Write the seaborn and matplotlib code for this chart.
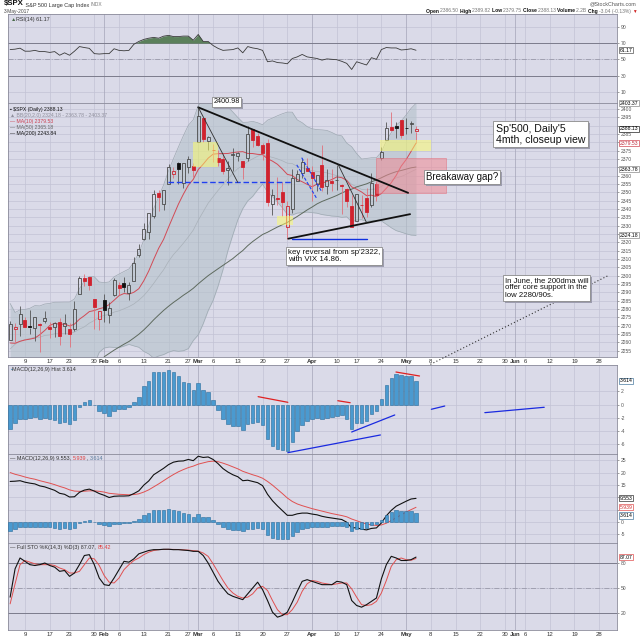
import numpy as np
import pandas as pd
import matplotlib
matplotlib.use("Agg")
import matplotlib.pyplot as plt
from matplotlib.patches import Rectangle
import seaborn as sns

# ------------------------------
# 1. Data: $SPX daily sessions, 4-Jan-2017 .. 3-May-2017
# ------------------------------
holidays = ["2017-01-16", "2017-02-20", "2017-04-14", "2017-05-29"]
calendar = pd.bdate_range("2017-01-04", "2017-06-30").difference(pd.to_datetime(holidays))

opens = [2261.60, 2268.18, 2271.14, 2273.59, 2269.72, 2268.60, 2271.14, 2272.74, 2269.14, 2269.14,
         2271.90, 2269.96, 2267.78, 2267.88, 2288.88, 2298.63, 2299.02, 2286.01, 2274.02, 2285.59,
         2276.69, 2288.54, 2294.28, 2295.87, 2289.55, 2296.70, 2312.27, 2321.72, 2326.12, 2335.58,
         2349.64, 2343.01, 2354.91, 2361.11, 2367.50, 2355.73, 2365.23, 2366.08, 2380.13, 2394.75,
         2380.92, 2375.23, 2370.74, 2369.81, 2363.49, 2372.52, 2371.56, 2368.55, 2370.34, 2387.71,
         2383.71, 2378.24, 2379.32, 2343.00, 2345.97, 2350.42, 2329.11, 2339.79, 2356.54, 2361.31,
         2364.82, 2362.34, 2354.76, 2366.59, 2353.79, 2356.59, 2357.16, 2353.92, 2352.15, 2341.98,
         2332.62, 2342.53, 2346.79, 2342.69, 2354.74, 2370.33, 2381.51, 2388.98, 2389.70, 2393.68,
         2388.50, 2391.05, 2386.50]
highs = [2272.82, 2271.50, 2282.10, 2275.49, 2279.27, 2275.32, 2271.78, 2278.68, 2272.08, 2272.01,
         2274.33, 2276.96, 2271.78, 2284.63, 2299.55, 2300.99, 2299.02, 2286.01, 2279.09, 2289.14,
         2283.97, 2298.31, 2296.18, 2299.40, 2295.91, 2311.08, 2319.23, 2331.58, 2337.58, 2351.30,
         2351.31, 2351.16, 2366.71, 2365.13, 2368.26, 2367.34, 2371.54, 2367.79, 2400.98, 2394.75,
         2383.89, 2378.80, 2375.12, 2373.09, 2369.08, 2376.86, 2374.42, 2368.55, 2390.01, 2388.10,
         2385.71, 2379.55, 2381.93, 2351.81, 2358.92, 2356.22, 2344.90, 2363.78, 2363.36, 2370.42,
         2370.35, 2365.87, 2360.53, 2378.36, 2364.16, 2363.76, 2366.37, 2355.22, 2352.72, 2348.26,
         2349.14, 2348.35, 2352.63, 2361.37, 2356.18, 2376.98, 2392.48, 2398.16, 2392.10, 2393.68,
         2394.49, 2392.93, 2389.82]
lows = [2261.60, 2260.45, 2264.06, 2268.90, 2265.27, 2260.83, 2254.25, 2271.51, 2262.81, 2263.35,
        2258.41, 2265.01, 2257.02, 2266.68, 2288.88, 2294.08, 2291.62, 2268.04, 2267.21, 2272.44,
        2271.65, 2287.88, 2288.57, 2290.16, 2285.38, 2296.61, 2311.10, 2321.42, 2322.17, 2334.81,
        2338.87, 2339.58, 2354.91, 2358.34, 2355.09, 2352.87, 2361.87, 2358.96, 2380.13, 2380.17,
        2375.39, 2367.98, 2365.51, 2361.01, 2354.54, 2363.04, 2368.52, 2358.18, 2368.94, 2377.18,
        2377.64, 2369.66, 2341.90, 2336.45, 2342.13, 2335.74, 2322.25, 2337.63, 2356.52, 2358.58,
        2362.60, 2344.73, 2350.72, 2350.52, 2348.90, 2350.74, 2351.50, 2337.25, 2341.18, 2328.95,
        2332.51, 2334.54, 2335.05, 2340.91, 2344.51, 2369.19, 2381.15, 2386.78, 2382.68, 2382.36,
        2384.83, 2385.82, 2379.75]
closes = [2270.75, 2269.00, 2276.98, 2268.90, 2268.90, 2275.32, 2270.44, 2274.64, 2267.89, 2271.89,
          2263.69, 2271.31, 2265.20, 2280.07, 2298.37, 2296.68, 2294.69, 2280.90, 2278.87, 2279.55,
          2280.85, 2297.42, 2292.56, 2293.08, 2294.67, 2307.87, 2316.10, 2328.25, 2337.58, 2349.25,
          2347.22, 2351.16, 2365.38, 2362.82, 2363.81, 2367.34, 2369.75, 2363.64, 2395.96, 2381.92,
          2383.12, 2375.31, 2368.39, 2362.98, 2364.87, 2372.60, 2373.47, 2365.45, 2385.26, 2381.38,
          2378.25, 2373.47, 2344.02, 2348.45, 2345.96, 2343.98, 2341.59, 2358.57, 2361.13, 2368.06,
          2362.72, 2358.84, 2360.16, 2352.95, 2357.49, 2355.54, 2357.16, 2353.78, 2344.93, 2328.95,
          2349.01, 2342.19, 2338.17, 2355.84, 2348.69, 2374.15, 2388.61, 2387.45, 2388.77, 2384.20,
          2388.33, 2391.17, 2388.13]

# closes before the window (18-Nov-2016 .. 3-Jan-2017), feed the moving averages
prior_closes = [2181.90, 2198.18, 2202.94, 2204.72, 2213.35, 2201.72, 2204.66, 2198.81,
                2191.08, 2191.95, 2204.71, 2212.23, 2241.35, 2246.19, 2259.53, 2256.96, 2271.72,
                2253.28, 2262.03, 2258.07, 2262.53, 2270.76, 2265.18, 2260.96, 2263.79, 2268.88,
                2249.92, 2249.26, 2238.83, 2257.83]

# indicator readings, one per session
rsi = [62, 62.5, 63.7, 60, 60, 61, 59.5, 59.5, 58.5, 59.5,
       55, 58, 55, 60, 65.7, 64.5, 63.5, 57, 56.5, 57,
       57, 63, 61, 60.5, 61, 68.5, 72, 74.5, 76, 77,
       76, 78.5, 79.5, 78, 78, 78.6, 78.6, 73.5, 80.6, 72,
       72, 67, 63.5, 61, 61.5, 62, 64, 58, 65.7, 64,
       63, 61, 47, 48, 46, 45.5, 44.5, 51, 53, 56,
       53, 52, 51, 49, 50.5, 50, 49.5, 47.5, 45, 37.5,
       47, 45, 43, 52, 50, 62, 64.5, 64, 64, 61.5,
       62, 63, 61.17]
macd_line = [16.4, 16.5, 16.7, 16.1, 15.7, 15.4, 14.6, 14.2, 13.5, 12.8,
             11.6, 11.2, 10.1, 10.2, 12.0, 12.9, 13.3, 12.5, 11.5, 10.8,
             9.9, 10.4, 10.5, 10.5, 10.6, 11.5, 12.6, 14.9, 16.6, 19.1,
             20.4, 21.7, 23.2, 24.2, 24.6, 24.7, 25.3, 24.8, 26.6, 26.1,
             26.3, 25.3, 23.6, 21.6, 20.2, 19.1, 18.3, 16.7, 16.9, 16.4,
             15.9, 14.7, 11.2, 8.6, 6.5, 4.6, 2.7, 2.7, 3.3, 3.6,
             3.6, 3.2, 2.9, 2.3, 1.9, 1.6, 1.3, 1.0, -0.1, -2.4,
             -2.3, -2.9, -3.2, -2.6, -2.4, -0.4, 2.5, 4.7, 6.4, 7.4,
             8.4, 9.3, 9.553]
macd_hist = [-3.6, -2.8, -2.1, -2.1, -2.0, -1.9, -2.1, -2.0, -2.2, -2.3,
             -2.8, -2.6, -2.9, -2.3, -0.4, 0.45, 0.7, -0.1, -0.9, -1.3,
             -1.7, -1.0, -0.7, -0.6, -0.4, 0.4, 1.2, 2.8, 3.6, 4.9,
             5.0, 5.0, 5.2, 5.0, 4.3, 3.5, 3.3, 2.2, 3.2, 2.2,
             1.9, 0.7, -0.8, -2.2, -2.9, -3.2, -3.2, -3.8, -2.9, -2.7,
             -2.6, -3.0, -5.2, -6.3, -6.7, -6.9, -7.0, -5.6, -4.0, -3.0,
             -2.4, -2.2, -2.0, -2.1, -2.0, -1.8, -1.7, -1.6, -2.2, -3.6,
             -2.8, -2.7, -2.4, -1.4, -1.0, 0.8, 3.0, 4.1, 4.7, 4.5,
             4.4, 4.3, 3.614]
sto_k = [39, 73, 86, 82, 78, 77, 78, 80, 77, 75,
         70, 71, 64, 68, 78, 89, 90, 78, 62, 54,
         53, 62, 72, 82, 81, 85, 91, 93, 95, 96,
         96, 96.5, 96.5, 96, 96, 95.5, 95, 94, 94, 89,
         80, 69, 58, 50, 43, 40, 38, 36, 43, 50,
         57, 48, 35, 21, 15, 17, 21, 33, 46, 58,
         60, 58, 56, 54, 54, 54, 58, 57, 54, 35,
         29, 27, 30, 34, 38, 61, 78, 88, 86, 83,
         83, 84, 87.07]
sto_d = [31, 55, 78, 83, 81, 79, 78, 78, 78, 77,
         74, 72, 68, 68, 70, 78, 86, 85, 77, 65,
         57, 56, 62, 72, 78, 83, 86, 90, 93, 95,
         96, 96.3, 96.4, 96.3, 96.2, 95.8, 95.5, 94.8, 94.3, 92,
         88, 79, 69, 59, 50, 44, 40, 38, 39, 43,
         50, 52, 47, 35, 24, 18, 18, 24, 33, 46,
         55, 59, 58, 56, 55, 54, 55, 56, 56, 49,
         39, 30, 29, 30, 34, 44, 59, 76, 84, 86,
         84, 83.3, 85.42]

# date axis
tick_dates = ["2017-01-09", "2017-01-17", "2017-01-23", "2017-01-30", "2017-02-01", "2017-02-06",
              "2017-02-13", "2017-02-21", "2017-02-27", "2017-03-01", "2017-03-06", "2017-03-13",
              "2017-03-20", "2017-03-27", "2017-04-03", "2017-04-10", "2017-04-17", "2017-04-24",
              "2017-05-01", "2017-05-08", "2017-05-15", "2017-05-22", "2017-05-30", "2017-06-01",
              "2017-06-05", "2017-06-12", "2017-06-19", "2017-06-26"]
tick_labels = ["9", "17", "23", "30", "Feb", "6", "13", "21", "27", "Mar", "6", "13", "20", "27",
               "Apr", "10", "17", "24", "May", "8", "15", "22", "30", "Jun", "6", "12", "19", "28"]

# drawn annotations: (session position, price) pairs
resist_x, resist_y = [38, 80.4], [2401.0, 2349.7]
support_x, support_y = [56.2, 80.8], [2322.2, 2336.9]
base_x, base_y = [56.9, 72.0], [2322.2, 2322.2]
neck_x, neck_y = [31.9, 56.9], [2356.0, 2356.0]
thin_lines = [([38, 46.0], [2401.0, 2355.9]), ([66.3, 72.0], [2366.5, 2331.9])]
flag_lines = [([58.9, 63.0], [2370.8, 2350.1]), ([57.9, 62.0], [2366.5, 2346.0])]
dma200_x, dma200_y = [83.7, 120.8], [2245.0, 2300.0]
yellow_boxes = [(37.0, 42.05, 2365.0, 2380.4), (53.85, 57.1, 2330.5, 2335.9), (74.7, 84.96, 2375.0, 2381.4)]
gap_box = (73.9, 88.0, 2349.5, 2370.5)
hist_red = [([50.1, 56.1], [1.21, 0.36]), ([66.2, 68.7], [0.6, 0.3]), ([77.95, 82.7], [4.93, 4.33])]
hist_blue = [([56.1, 74.8], [-7.24, -4.57]), ([69.0, 77.7], [-4.12, -1.55]),
             ([85.1, 87.8], [-0.69, -0.2]), ([95.9, 107.9], [-1.2, -0.39])]

# ------------------------------
# 2. Derived series
# ------------------------------
k = np.arange(len(closes))
o, h, l, c = (np.asarray(v, dtype=float) for v in (opens, highs, lows, closes))
all_close = pd.Series(np.r_[prior_closes, c])
n0 = len(prior_closes)
ma10 = all_close.rolling(10).mean().values[n0:]
ma50 = all_close.rolling(50).mean().values[n0:]
mid = all_close.rolling(20).mean()
sd = all_close.rolling(20).std(ddof=0)
bb_mid = mid.values[n0:]
bb_up = (mid + 2 * sd).values[n0:]
bb_lo = (mid - 2 * sd).values[n0:]
macd_line = np.asarray(macd_line)
macd_hist = np.asarray(macd_hist)
signal = macd_line - macd_hist
tick_k = [calendar.get_loc(pd.Timestamp(d)) for d in tick_dates]

# ------------------------------
# 3. Figure layout
# ------------------------------
sns.set_theme(style="white")
plt.rcParams["font.family"] = ["Liberation Sans", "DejaVu Sans"]
plt.rcParams["axes.linewidth"] = 0.6

W = H = 640
BG = "#dadae8"
GRID = "#c3c3d5"
MONTH = "#a4a4b8"
XMIN, XMAX = -0.43, 122.6

fig = plt.figure(figsize=(6.4, 6.4), dpi=100)
fig.patch.set_facecolor("white")


def panel(top, bottom, left=8, right=617):
    return fig.add_axes([left / W, 1 - bottom / H, (right - left) / W, (bottom - top) / H])


ax_rsi = panel(14, 103)
ax_px = panel(103, 357)
ax_hist = panel(365, 454)
ax_macd = panel(454, 543)
ax_sto = panel(543, 630)


def style(ax, ylim, yticks, dates=False, hide_near=(), near=0.0):
    ax.set_facecolor(BG)
    ax.set_xlim(XMIN, XMAX)
    ax.set_ylim(*ylim)
    ax.set_xlabel("")
    ax.set_ylabel("")
    ax.yaxis.tick_right()
    ax.set_yticks(yticks)
    # tick labels that sit under a value tag are not shown
    labels = ["" if any(abs(v - t) < near for t in hide_near) else f"{v:g}" for v in yticks]
    ax.set_yticklabels(labels)
    ax.tick_params(axis="y", labelsize=3.6, length=1.5, width=0.4, pad=1, colors="#555555")
    for v in yticks:
        ax.axhline(v, color=GRID, lw=0.5, zorder=0)
    for kk, lab in zip(tick_k, tick_labels):
        ax.axvline(kk, color=MONTH if lab.isalpha() else GRID, lw=0.5, zorder=0)
    ax.set_xticks(tick_k)
    if dates:
        ax.set_xticklabels(tick_labels)
        ax.tick_params(axis="x", labelsize=4.3, length=0, pad=1.2, colors="#333333")
        for t in ax.get_xticklabels():
            if t.get_text().isalpha():
                t.set_fontweight("bold")
    else:
        ax.set_xticklabels([])
        ax.tick_params(axis="x", length=0)
    for s in ax.spines.values():
        s.set_color("#8a8a9a")
        s.set_linewidth(0.6)


def tag(ax, y, s, edge, txt="black"):
    ax.text(1.004, y, s, transform=ax.get_yaxis_transform(), fontsize=3.7, color=txt,
            va="center", ha="left", zorder=10, clip_on=False,
            bbox=dict(boxstyle="square,pad=0.12", fc="white", ec=edge, lw=0.5))


def chain(ax, x, y, parts, size=3.9):
    t = ax.text(x, y, parts[0][0], transform=ax.transAxes, fontsize=size, color=parts[0][1],
                va="top", ha="left", zorder=12)
    for s, col in parts[1:]:
        t = ax.annotate(s, xycoords=t, xy=(1, 0), va="bottom", fontsize=size, color=col, zorder=12)
    return t


def line(ax, x, y, color, lw, **kw):
    d = pd.DataFrame({"x": x, "y": y}).dropna()
    sns.lineplot(data=d, x="x", y="y", ax=ax, color=color, linewidth=lw, legend=False,
                 estimator=None, sort=False, **kw)


# ------------------------------
# 4. RSI panel
# ------------------------------
rsi_a = np.asarray(rsi, dtype=float)
ax_rsi.fill_between(k, 70, rsi_a, where=rsi_a > 70, interpolate=True, color="#5b805b", zorder=2, lw=0)
line(ax_rsi, k, rsi_a, "#3a3a3a", 0.6)
style(ax_rsi, (-3.8, 105.8), [10, 30, 50, 70, 90])
for v in (30, 70):
    ax_rsi.axhline(v, color="#7c7c8c", lw=0.7, zorder=1)
ax_rsi.axhline(50, color="#9a9aaa", lw=0.6, ls=(0, (6, 2, 1, 2)), zorder=1)
tag(ax_rsi, rsi[-1], f"{rsi[-1]:.2f}", "#555555")
chain(ax_rsi, 0.004, 0.965, [("\u25B2", "#4a6a4a"), (f"RSI(14) {rsi[-1]:.2f}", "#333333")])

# ------------------------------
# 5. Price panel
# ------------------------------
ax = ax_px
ax.fill_between(k, bb_lo, bb_up, color="#b4c2ca", alpha=0.6, lw=0, zorder=1)
line(ax, k, bb_up, "#9ea9b2", 0.5)
line(ax, k, bb_lo, "#9ea9b2", 0.5)
line(ax, k, bb_mid, "#a9b1b9", 0.5)
line(ax, k, ma50, "#5e6a5e", 0.7)
line(ax, k, ma10, "#d24a55", 0.7)

prev = np.r_[prior_closes[-1], c[:-1]]
rising = c >= prev
hollow = c >= o
body_lo = np.minimum(o, c)
body_hi = np.maximum(o, c)
body_h = np.maximum(body_hi - body_lo, 0.35)
face = ["none" if hol else ("#111111" if ris else "#d0222e") for ris, hol in zip(rising, hollow)]
edge = [("#4a4a4a" if hol else "#111111") if ris else "#d0222e" for ris, hol in zip(rising, hollow)]
wick = ["#555555" if ris else "#e0707a" for ris in rising]
ax.vlines(k, l, body_lo, colors=wick, lw=0.6, zorder=3)
ax.vlines(k, body_hi, h, colors=wick, lw=0.6, zorder=3)
ax.bar(k, body_h, bottom=body_lo, width=0.6, color=face, edgecolor=edge, linewidth=0.6, zorder=4)

for x0, x1, y0, y1 in yellow_boxes:
    ax.add_patch(Rectangle((x0, y0), x1 - x0, y1 - y0, fc="#ffff66", ec="none", alpha=0.5, zorder=5))
gx0, gx1, gy0, gy1 = gap_box
ax.add_patch(Rectangle((gx0, gy0), gx1 - gx0, gy1 - gy0, fc="#f08a94", ec="#e06a78", lw=0.6,
                       alpha=0.55, zorder=5))

ax.plot(resist_x, resist_y, color="#111111", lw=1.3, zorder=6)
ax.plot(support_x, support_y, color="#111111", lw=1.3, zorder=6)
ax.plot(base_x, base_y, color="#1030e0", lw=1.0, zorder=6)
ax.plot(neck_x, neck_y, color="#2040f0", lw=1.0, ls=(0, (4, 2)), zorder=6)
for xs, ys in thin_lines:
    ax.plot(xs, ys, color="#303030", lw=0.6, zorder=6)
for xs, ys in flag_lines:
    ax.plot(xs, ys, color="#2040f0", lw=0.8, ls=(0, (3, 1.5)), zorder=6)
ax.plot(dma200_x, dma200_y, color="#333333", lw=0.8, ls=(0, (1, 2)), zorder=6, clip_on=False)

px_tags = [bb_up[-1], c[-1], ma10[-1], bb_mid[-1], bb_lo[-1]]
style(ax, (2251.2, 2403.6), list(range(2255, 2401, 5)), dates=True, hide_near=px_tags, near=3.0)
tag(ax, bb_up[-1], f"{bb_up[-1]:.2f}", "#8a8a8a")
tag(ax, c[-1], f"{c[-1]:.2f}", "#222222")
tag(ax, ma10[-1], f"{ma10[-1]:.2f}", "#d24a55", txt="#c03040")
tag(ax, bb_mid[-1], f"{bb_mid[-1]:.2f}", "#8a8a8a")
tag(ax, bb_lo[-1], f"{bb_lo[-1]:.2f}", "#8a8a8a")

legend_rows = [("\u25AA $SPX (Daily) " + f"{c[-1]:.2f}", "#111111"),
               ("\u25B2 BB(20,2.0) " + f"{bb_lo[-1]:.2f} - {bb_mid[-1]:.2f} - {bb_up[-1]:.2f}", "#8f8f9c"),
               ("\u2014 MA(10) " + f"{ma10[-1]:.2f}", "#cc4050"),
               ("\u2014 MA(50) " + f"{ma50[-1]:.2f}", "#666666"),
               ("\u2014 MA(200) 2243.84", "#111111")]
for i, (s, col) in enumerate(legend_rows):
    ax.text(0.004, 0.985 - i * 0.0236, s, transform=ax.transAxes, fontsize=3.7, color=col,
            va="top", ha="left", zorder=12)

# ------------------------------
# 6. MACD histogram panel
# ------------------------------
ax_hist.bar(k, macd_hist, width=0.7, color="#4a9ad0", edgecolor="#2a6c9c", linewidth=0.4, zorder=3)
for xs, ys in hist_red:
    ax_hist.plot(xs, ys, color="#e02020", lw=0.9, zorder=5)
for xs, ys in hist_blue:
    ax_hist.plot(xs, ys, color="#1a2ae0", lw=0.9, zorder=5)
style(ax_hist, (-7.44, 5.99), [-6, -4, -2, 0, 2])
tag(ax_hist, macd_hist[-1], f"{macd_hist[-1]:.3f}", "#4a7aa0")
chain(ax_hist, 0.004, 0.975, [("\u25AA", "#3a8ac0"), (f"MACD(12,26,9) Hist {macd_hist[-1]:.3f}", "#333333")])

# ------------------------------
# 7. MACD panel
# ------------------------------
ax_macd.bar(k, macd_hist, width=0.7, color="#4a9ad0", edgecolor="#2a6c9c", linewidth=0.4, zorder=3)
line(ax_macd, k, signal, "#e05050", 0.7)
line(ax_macd, k, macd_line, "#111111", 0.8)
macd_tags = [macd_line[-1], signal[-1], macd_hist[-1] - 1.0]
style(ax_macd, (-8.5, 27.5), [-5, 0, 5, 10, 15, 20, 25], hide_near=macd_tags, near=1.6)
tag(ax_macd, macd_tags[0], f"{macd_line[-1]:.3f}", "#333333")
tag(ax_macd, macd_tags[1], f"{signal[-1]:.3f}", "#e05050", txt="#d03030")
tag(ax_macd, macd_tags[2], f"{macd_hist[-1]:.3f}", "#4a7aa0")
chain(ax_macd, 0.004, 0.975, [("\u2014 MACD(12,26,9) " + f"{macd_line[-1]:.3f}, ", "#333333"),
                              (f"{signal[-1]:.3f}", "#e04040"), (", ", "#333333"),
                              (f"{macd_hist[-1]:.3f}", "#5a7a9a")])

# ------------------------------
# 8. Full stochastics panel
# ------------------------------
line(ax_sto, k, sto_d, "#e05050", 0.7)
line(ax_sto, k, sto_k, "#111111", 0.8)
style(ax_sto, (-0.4, 104), [20, 50, 80], dates=True)
for v in (20, 80):
    ax_sto.axhline(v, color="#7c7c8c", lw=0.7, zorder=1)
ax_sto.axhline(50, color="#9a9aaa", lw=0.6, ls=(0, (6, 2, 1, 2)), zorder=1)
tag(ax_sto, sto_k[-1], f"{sto_k[-1]:.2f}", "#e05050")
chain(ax_sto, 0.004, 0.975, [("\u2014 Full STO %K(14,3) %D(3) " + f"{sto_k[-1]:.2f}, ", "#333333"),
                             (f"{sto_d[-1]:.2f}", "#e04040")])

# ------------------------------
# 9. Header and chart notes
# ------------------------------
t = fig.text(4 / W, 1 - 0.5 / H, "$SPX", fontsize=5.6, weight="bold", color="#111111", va="top")
t = ax_rsi.annotate(" S&P 500 Large Cap Index ", xycoords=t, xy=(1, 0), va="bottom", fontsize=4.0, color="#333333")
ax_rsi.annotate("INDX", xycoords=t, xy=(1, 0), va="bottom", fontsize=3.5, color="#777777")
fig.text(4 / W, 1 - 9.3 / H, "3-May-2017", fontsize=3.5, color="#444444", va="top")
fig.text(636 / W, 1 - 1.5 / H, "@StockCharts.com", fontsize=3.9, color="#555555", va="top", ha="right")

# quote row, laid out from the right edge leftwards
head = [("Open ", "#111111", "bold"), ("2386.50 ", "#777777", "normal"),
        ("High ", "#111111", "bold"), ("2389.82 ", "#777777", "normal"),
        ("Low ", "#111111", "bold"), ("2379.75 ", "#777777", "normal"),
        ("Close ", "#111111", "bold"), ("2388.13 ", "#777777", "normal"),
        ("Volume ", "#111111", "bold"), ("2.2B ", "#777777", "normal"),
        ("Chg ", "#111111", "bold"), ("-3.04 (-0.13%) ", "#777777", "normal"),
        ("\u25BC", "#d02020", "normal")]
s, col, wt = head[-1]
t = fig.text(637 / W, 1 - 8.5 / H, s, fontsize=3.3, color=col, weight=wt, va="top", ha="right")
for s, col, wt in reversed(head[:-1]):
    t = ax_rsi.annotate(s, xycoords=t, xy=(0, 0), va="bottom", ha="right", fontsize=3.6, color=col, weight=wt)

notes = []


def note(x0, y0, s, size, pad=0.25):
    pad_px = pad * size * 100 / 72
    tx, ty = (x0 + pad_px) / W, 1 - (y0 + pad_px) / H
    notes.append(fig.text(tx, ty, s, fontsize=size, color="#111111", va="top", ha="left", linespacing=1.15,
                          zorder=31, bbox=dict(boxstyle=f"square,pad={pad}", fc="white", ec="#8a8a8a", lw=0.6)))


note(212, 97, "2400.98", 5.2, pad=0.2)
note(493, 121, "Sp'500, Daily'5\n4mth, closeup view", 7.6)
note(424, 170, "Breakaway gap?", 7.0, pad=0.2)
note(286, 247, "key reversal from sp'2322,\nwith VIX 14.86.", 5.7, pad=0.2)
note(503, 275, "In June, the 200dma will\noffer core support in the\nlow 2280/90s.", 5.6, pad=0.2)

# drop shadows under the note boxes
fig.canvas.draw()
renderer = fig.canvas.get_renderer()
for t in notes:
    bb = t.get_bbox_patch().get_window_extent(renderer)
    fig.add_artist(Rectangle(((bb.x0 + 2) / W, (bb.y0 - 2) / H), bb.width / W, bb.height / H,
                             transform=fig.transFigure, fc="#9c9cae", ec="none", zorder=30))

fig.savefig("out.png", dpi=100, facecolor="white")
